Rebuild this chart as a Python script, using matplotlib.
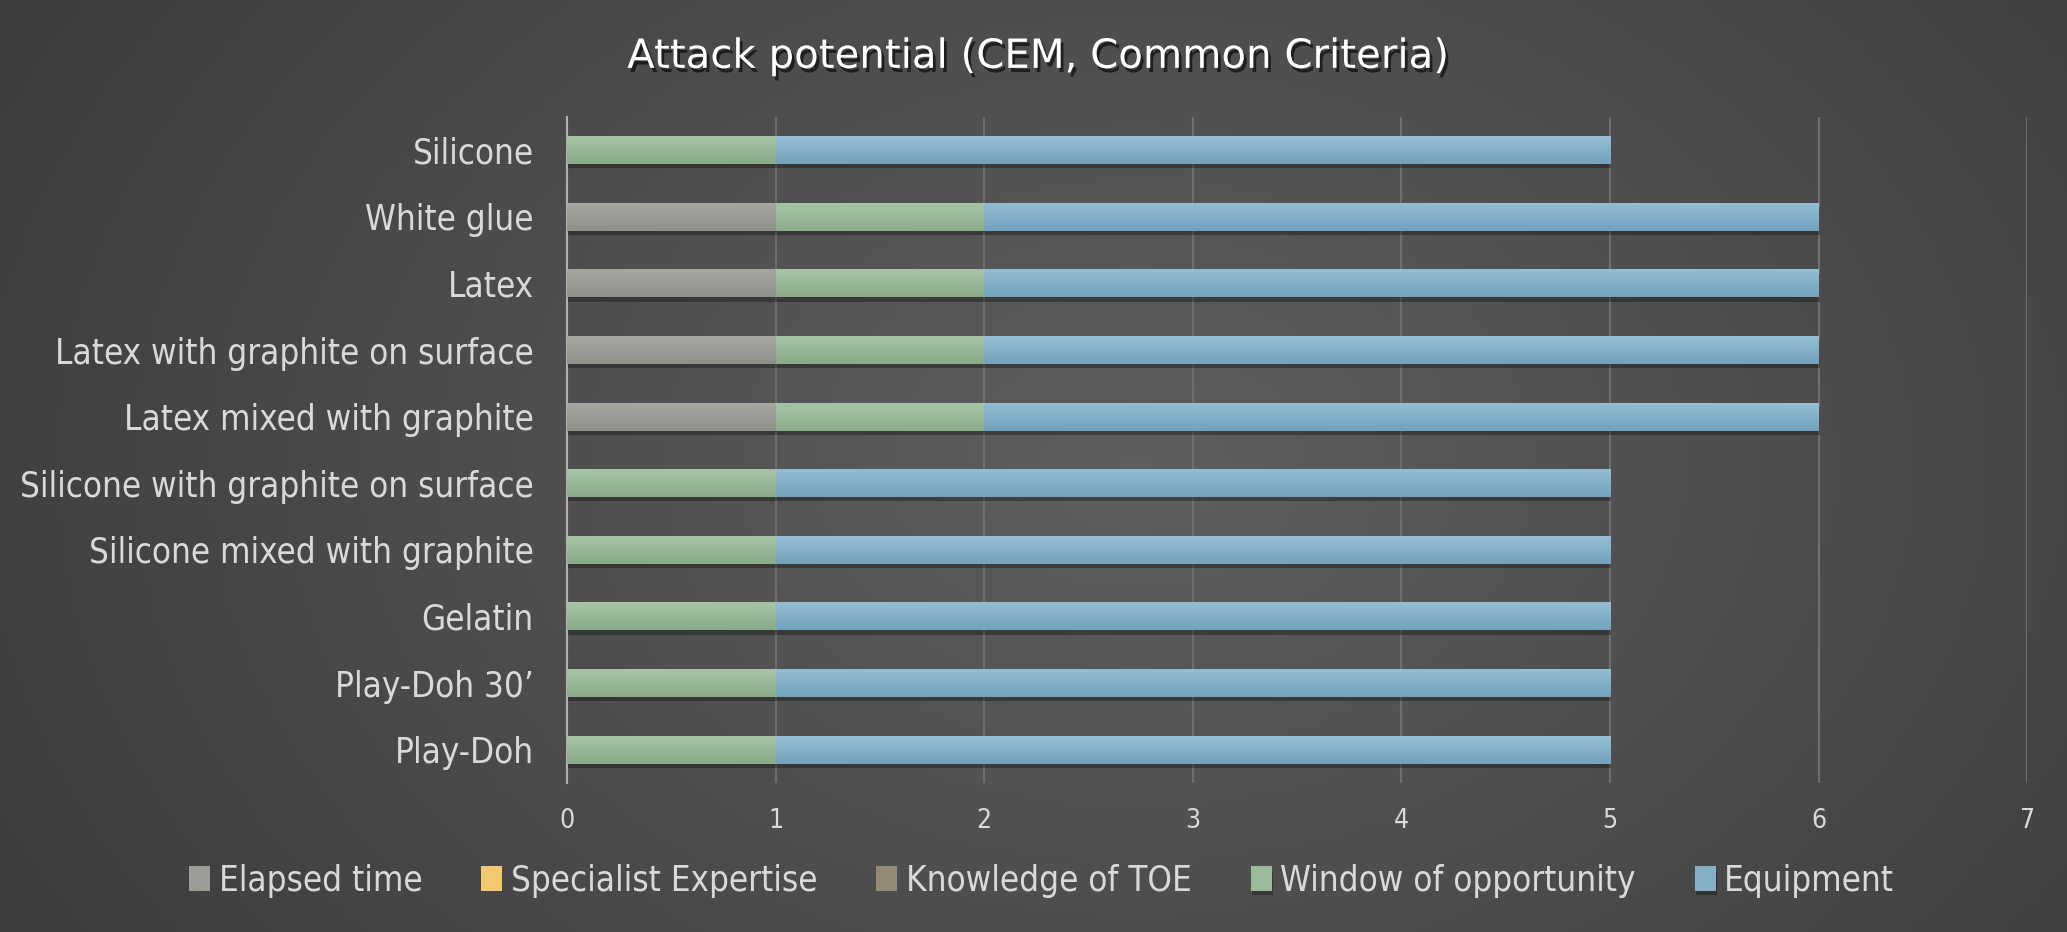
import matplotlib
matplotlib.use('Agg')
import matplotlib.pyplot as plt
import matplotlib.patheffects as pe
from matplotlib import font_manager as fm
from matplotlib.colors import LinearSegmentedColormap
import numpy as np

categories = ['Play-Doh', 'Play-Doh 30\u2019', 'Gelatin', 'Silicone mixed with graphite',
              'Silicone with graphite on surface', 'Latex mixed with graphite',
              'Latex with graphite on surface', 'Latex', 'White glue', 'Silicone']
elapsed_time = [0, 0, 0, 0, 0, 1, 1, 1, 1, 0]
specialist_expertise = [0, 0, 0, 0, 0, 0, 0, 0, 0, 0]
knowledge_toe = [0, 0, 0, 0, 0, 0, 0, 0, 0, 0]
window_opportunity = [1, 1, 1, 1, 1, 1, 1, 1, 1, 1]
equipment = [4, 4, 4, 4, 4, 4, 4, 4, 4, 4]

series_names = ['Elapsed time', 'Specialist Expertise', 'Knowledge of TOE',
                'Window of opportunity', 'Equipment']
series_vals = [elapsed_time, specialist_expertise, knowledge_toe, window_opportunity, equipment]
colors = ['#9c9d97', '#f2c96f', '#958a76', '#9aba9a', '#84b0c8']
tops = ['#a7a8a2', '#f6d585', '#a09682', '#a7c4a7', '#95bdd3']
bottoms = ['#8e908a', '#e8bd5e', '#887e6a', '#8aab8a', '#72a3be']
xticks = [0, 1, 2, 3, 4, 5, 6, 7]

txt = '#d9d9d9'

# narrow font if the system has one, else Liberation Sans
cond = fm.findfont(fm.FontProperties(family='DejaVu Sans', stretch='condensed'))
if 'Condensed' in cond:
  lab = {'family': 'DejaVu Sans', 'stretch': 'condensed'}
  lab_size, leg_size = 25, 25
else:
  lab = {'family': 'Liberation Sans'}
  lab_size, leg_size = 24, 23

fig = plt.figure(figsize=(20.67, 9.32), dpi=100)

# dark radial background
bg = fig.add_axes([0, 0, 1, 1], zorder=-10)
yy, xx = np.mgrid[0:1:300j, 0:1:600j]
r = np.sqrt(((xx - 0.55) * 1.6) ** 2 + ((yy - 0.5) * 1.0) ** 2)
shade = 0.37 - 0.16 * np.clip(r, 0, 1.2) / 1.2
bg.imshow(np.dstack([shade, shade, shade]), extent=[0, 1, 0, 1], aspect='auto')
bg.axis('off')

ax = fig.add_axes([0.2743, 0.1599, 0.7064, 0.7146])
ax.patch.set_alpha(0)

y = np.arange(len(categories))
left = np.zeros(len(categories))
shadow = [pe.SimplePatchShadow(offset=(1, -3), shadow_rgbFace='black', alpha=0.3), pe.Normal()]
grad = np.linspace(0, 1, 64).reshape(-1, 1)
for name, vals, c, ct, cb in zip(series_names, series_vals, colors, tops, bottoms):
  vals = np.array(vals, dtype=float)
  bars = ax.barh(y, vals, left=left, height=0.42, color=c, label=name, zorder=3)
  cmap = LinearSegmentedColormap.from_list(name, [cb, ct])
  for b in bars:
    if b.get_width() > 0:
      b.set_path_effects(shadow)
      x0, y0 = b.get_x(), b.get_y()
      im = ax.imshow(grad, extent=[x0, x0 + b.get_width(), y0, y0 + b.get_height()],
                     origin='lower', aspect='auto', cmap=cmap, zorder=4)
      im.set_clip_path(b)
  left += vals

ax.set_xlim(0, 7)
ax.set_ylim(-0.5, 9.5)
ax.set_xticks(xticks)
ax.set_yticks(y)
ax.set_yticklabels(categories, fontsize=lab_size, color=txt, **lab)
ax.set_xticklabels([str(t) for t in xticks], fontsize=19, color=txt, **lab)
ax.tick_params(axis='y', length=0, pad=24)
ax.tick_params(axis='x', length=0, pad=18)
ax.grid(axis='x', color='#6e6e6e', linewidth=1.5, zorder=0)
for s in ['top', 'right', 'bottom']:
  ax.spines[s].set_visible(False)
ax.spines['left'].set_color('#b0b0b0')
ax.spines['left'].set_linewidth(1.5)

fig.text(0.502, 0.939, 'Attack potential (CEM, Common Criteria)', ha='center', va='center',
         fontsize=29, color='white', family='DejaVu Sans',
         path_effects=[pe.withSimplePatchShadow(offset=(2, -3), shadow_rgbFace='black', alpha=0.6)])

leg_prop = dict(lab)
leg_prop['size'] = leg_size
leg = fig.legend(loc='center', bbox_to_anchor=(0.504, 0.055), ncol=5, frameon=False,
                 prop=leg_prop, labelcolor=txt,
                 handlelength=0.6, handleheight=0.7, handletextpad=0.25, columnspacing=1.7)

plt.savefig('out.png', dpi=100)
